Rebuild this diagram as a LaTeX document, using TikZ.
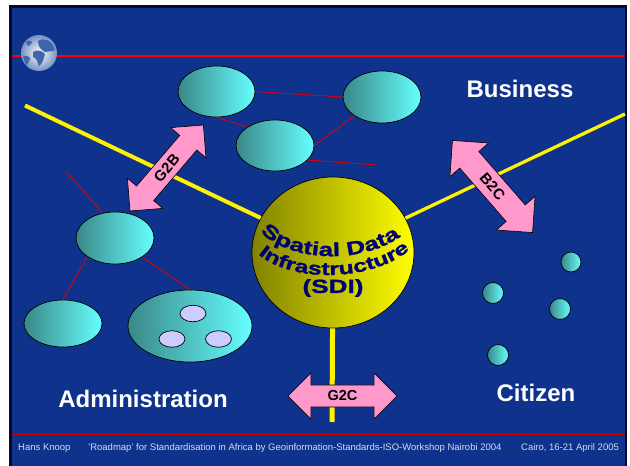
\documentclass[tikz,border=0pt]{standalone}
\usepackage{fontspec}
\usepackage{tikz}
\usetikzlibrary{shapes.geometric,shapes.arrows,decorations.text}
\setmainfont{Liberation Sans}
\newfontfamily\sdifont[FakeStretch=1.38,FakeBold=1.2]{Liberation Sans Bold}
\definecolor{slideblue}{RGB}{15,50,140}
\definecolor{slideedge}{RGB}{4,12,40}
\definecolor{cellfrom}{RGB}{58,135,135}
\definecolor{cellto}{RGB}{102,255,255}
\definecolor{spherefrom}{RGB}{130,130,0}
\definecolor{spheremid}{RGB}{228,228,0}
\definecolor{sditext}{RGB}{0,0,115}
\definecolor{arrowpink}{RGB}{255,153,204}
\definecolor{innercell}{RGB}{204,204,255}
\definecolor{footertext}{RGB}{210,220,245}
\definecolor{globerim}{RGB}{120,145,195}
\definecolor{globeland}{RGB}{62,102,175}
\tikzset{
  cell/.style={ellipse, draw=black, line width=0.7pt, left color=cellfrom, right color=cellto, inner sep=0pt},
  innerell/.style={ellipse, draw=black, line width=0.7pt, fill=innercell, inner sep=0pt, minimum width=26pt, minimum height=16.5pt},
  link/.style={draw=red!90!black, line width=0.8pt},
  axisline/.style={draw=yellow, line width=4pt},
  deal/.style={double arrow, draw=black, line width=0.6pt, fill=arrowpink, inner xsep=0pt, inner ysep=5.6pt, double arrow head extend=12pt, font=\bfseries\fontsize{15}{15}\selectfont, text=black},
  side/.style={text=white, font=\bfseries\fontsize{24}{24}\selectfont},
  footer/.style={text=footertext, font=\fontsize{9.5}{10}\selectfont, inner sep=0pt, anchor=west},
  sdiword/.style={text=sditext, inner sep=0pt},
}
\begin{document}
\begin{tikzpicture}[x=1pt,y=-1pt]
      \useasboundingbox (0,0) rectangle (630,466);
      % slide
      \fill[white] (0,0) rectangle (630,466);
      \fill[slideedge] (9,5) rectangle (627,466);
      \fill[slideblue] (12,8) rectangle (625,466);
      \coordinate (topl) at (12,56);
      \coordinate (topr) at (625,56);
      \coordinate (botl) at (12,434.5);
      \coordinate (botr) at (625,434.5);
      \draw[red, line width=2pt] (topl) -- (topr);
      \draw[red!80!black, line width=0.7pt] (botl) -- (botr);
      % globe
      \shade[inner color=white, outer color=globerim] (39,53) circle (18);
      \fill[globeland] (38,41) .. controls (44,37) and (52,40) .. (55,50) .. controls (51,52) and (48,51) .. (45,52) .. controls (42,50) and (38,48) .. (38,41) -- cycle;
      \fill[globeland] (33,52) .. controls (37,49) and (43,51) .. (45,54) .. controls (44,60) and (41,65) .. (39,66) .. controls (37,62) and (37,58) .. (33,57) -- cycle;
      \fill[globeland] (23,56) .. controls (27,55) and (30,57) .. (30,59) .. controls (29,62) and (27,65) .. (26,65) .. controls (25,62) and (24,60) .. (23,56) -- cycle;
      \fill[globeland] (26,42) .. controls (29,40) and (32,40) .. (32,42) .. controls (31,45) and (29,46) .. (28,46) -- cycle;
      % sphere
      \node[ellipse, draw=black, line width=0.7pt, left color=spherefrom, middle color=spheremid, right color=yellow, inner sep=0pt, minimum width=162pt, minimum height=151pt] (sdi) at (333,252.5) {};
      \coordinate (govend) at (25,105.5);
      \coordinate (bizend) at (625,114);
      \coordinate (citend) at (332,422);
      \draw[axisline] (sdi) -- (govend);
      \draw[axisline, line width=3.3pt] (sdi) -- (bizend);
      \draw[axisline, line width=5pt] (sdi) -- (citend);
      % business
      \node[cell, minimum width=77pt, minimum height=51pt] (bizleft) at (216.5,91.5) {};
      \node[cell, minimum width=78pt, minimum height=51pt] (bizmid) at (275,145.5) {};
      \node[cell, minimum width=78pt, minimum height=52pt] (bizright) at (382,97) {};
      \coordinate (bizfree) at (376,165);
      \draw[link] (bizleft.east) -- (bizright.west);
      \draw[link] (bizleft.south) -- (bizmid.146);
      \draw[link] (bizmid.east) -- (bizright.214);
      \draw[link] (bizmid.-24) -- (bizfree);
      % administration
      \node[cell, minimum width=78pt, minimum height=52pt] (govtop) at (115,238) {};
      \node[cell, minimum width=78pt, minimum height=47pt] (govleft) at (63,323.5) {};
      \node[cell, minimum width=124pt, minimum height=72pt] (govright) at (190,326) {};
      \node[innerell] (gova) at (193,313.5) {};
      \node[innerell] (govb) at (172,339) {};
      \node[innerell] (govc) at (218.5,339) {};
      \coordinate (govfree) at (66,171);
      \draw[link] (govtop.117) -- (govfree);
      \draw[link] (govtop.214) -- (govleft.north);
      \draw[link] (govtop.-35) -- (govright.north);
      % citizen
      \node[cell, minimum size=20pt] (cita) at (571,262) {};
      \node[cell, minimum size=21pt] (citb) at (493,293) {};
      \node[cell, minimum size=21pt] (citc) at (560,309) {};
      \node[cell, minimum size=21pt] (citd) at (498,355) {};
      % arrows
      \node[deal, rotate=49.5, minimum height=113pt, minimum width=46pt] (gtwob) at (166.7,168) {G2B};
      \node[deal, rotate=-49, minimum height=122pt, minimum width=51pt, inner ysep=7pt, double arrow head extend=13pt] (btwoc) at (492.5,186.5) {B2C};
      \node[deal, minimum height=109pt, minimum width=46pt, font=\bfseries\fontsize{14.5}{15}\selectfont] (gtwoc) at (342.5,396) {G2C};
      % labels
      \node[side] (bizlabel) at (520,88.5) {Business};
      \node[side] (govlabel) at (143,399) {Administration};
      \node[side] (citlabel) at (536,393) {Citizen};
      \node[footer] (foota) at (18,448) {Hans Knoop};
      \node[footer] (footb) at (88,448) {'Roadmap' for Standardisation in Africa by Geoinformation-Standards-ISO-Workshop Nairobi 2004};
      \node[footer] (footc) at (521,448) {Cairo, 16-21 April 2005};
      % sphere text
      \path[decorate, decoration={text along path, text align=center, text={|\sdifont\fontsize{19}{20}\selectfont\color{sditext}|Spatial Data}}]
        (256,226) .. controls (280,262) and (365,268) .. (406,232);
      \path[decorate, decoration={text along path, text align=center, text={|\sdifont\fontsize{18}{20}\selectfont\color{sditext}|Infrastructure}}]
        (254,250) .. controls (285,284) and (375,284) .. (414,246);
      \node[sdiword] (sdilabel) at (333,288) {\sdifont\fontsize{19}{20}\selectfont (SDI)};
    \end{tikzpicture}
\end{document}
